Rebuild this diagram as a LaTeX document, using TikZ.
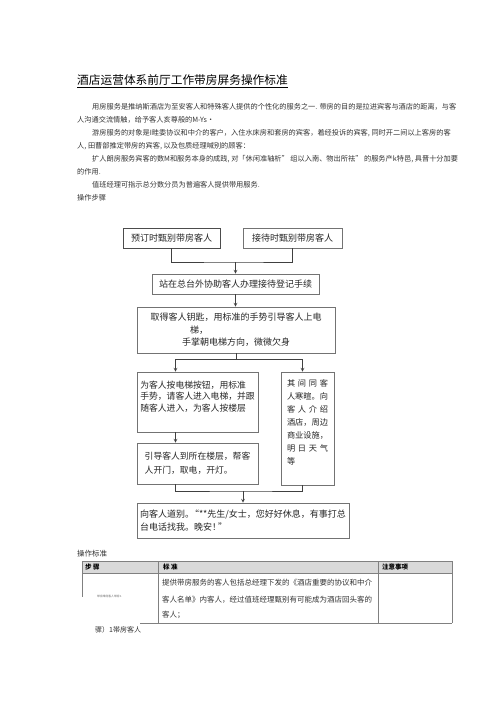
\documentclass[tikz,border=0pt]{standalone}
\usepackage{fontspec}
\setmainfont{Noto Sans CJK SC}
\tikzset{
  flowbox/.style={draw=black!55, line width=0.7pt, inner sep=2pt, text=black!85,
    font=\fontsize{9}{12.5}\selectfont},
  bodytext/.style={anchor=west, inner sep=0pt, text=black!80,
    font=\fontsize{7.2}{8}\selectfont},
  celltext/.style={anchor=west, inner sep=0pt, text=black!80,
    font=\fontsize{7.5}{8}\selectfont},
  headtext/.style={anchor=west, inner sep=0pt, font=\fontsize{6.5}{7}\selectfont\bfseries},
  link/.style={draw=black!75, line width=0.7pt},
  gridline/.style={draw=black!50, line width=0.5pt},
  >=stealth
}
\begin{document}
\begin{tikzpicture}[x=1pt,y=-1pt]
    \useasboundingbox[fill=white] (0,0) rectangle (500,707);
    % Title
        \node[anchor=west, inner sep=0pt, font=\fontsize{11.7}{12}\selectfont] (title) at (77,80) {酒店运营体系前厅工作带房屏务操作标准};
        \draw[line width=0.6pt] ([yshift=-1.5pt]title.south west) -- ([yshift=-1.5pt]title.south east);
    % Introduction
        \node[bodytext] (p1) at (92,107) {用房服务是推纳斯酒店为至安客人和特殊客人提供的个性化的服务之一. 带房的目的是拉进宾客与酒店的距离，与客};
        \node[bodytext] (p2) at (77,120) {人沟通交流情触，给予客人亥尊般的M-Ys·};
        \node[bodytext] (p3) at (92,133) {游房服务的对象是I畦委协议和中介的客户，入住水床房和套房的宾客，着经投诉的宾客, 同时开二间以上客房的客};
        \node[bodytext] (p4) at (77,146) {人, 田曹部推定带房的宾客, 以及包质经理喊别的顾客：};
        \node[bodytext] (p5) at (92,159) {扩人朗房服务宾客的数M和服务本身的成践, 对「休闲准轴析” 组以入南、物出所祛” 的服务产k特邑, 具晋十分加要};
        \node[bodytext] (p6) at (77,172) {的作用.};
        \node[bodytext] (p7) at (92,185) {值班经理可指示总分数分员为普遍客人提供带用服务.};
        \node[bodytext] (p8) at (77,198) {操作步骤};
    % Flow chart
        \node[flowbox, draw=black!70, line width=0.9pt, minimum width=97pt, minimum height=20pt] (pre) at (171.5,238) {预订时甄别带房客人};
        \node[flowbox, minimum width=99pt, minimum height=20pt] (arr) at (292.5,238) {接待时甄别带房客人};
        \node[flowbox, minimum width=167pt, minimum height=20pt] (desk) at (235.5,284) {站在总台外协助客人办理接待登记手续};
        \node[flowbox, minimum width=198pt, minimum height=46pt, align=center] (key) at (236,330)
            {取得客人钥匙，用标准的手势引导客人上电\\\makebox[92pt][l]{梯，}\\手掌朝电梯方向，微微欠身};
        \node[flowbox, minimum width=121pt, minimum height=60pt, align=left, font=\fontsize{8.8}{11.5}\selectfont] (lift) at (197.5,402)
            {为客人按电梯按钮，用标准\\手势，请客人进入电梯，并跟\\随客人进入，为客人按楼层\\~};
        \node[flowbox, minimum width=121pt, minimum height=41pt, align=left, font=\fontsize{8.8}{14}\selectfont] (room) at (197.5,463.5)
            {引导客人到所在楼层，帮客\\人开门，取电，开灯。};
        \node[flowbox, minimum width=53pt, minimum height=113pt, align=left, font=\fontsize{8.2}{13}\selectfont] (chat) at (307.5,428.5)
            {\makebox[41pt][s]{其\hfill 间\hfill 同\hfill 客}\\人寒暄。向\\\makebox[41pt][s]{客\hfill 人\hfill 介\hfill 绍}\\酒店，周边\\商业设施，\\\makebox[41pt][s]{明\hfill 日\hfill 天\hfill 气}\\等\\~};
        \node[flowbox, minimum width=212pt, minimum height=35pt, align=left] (bye) at (243,520.5)
            {向客人道别。\kern-4pt“**先生/女士，您好好休息，有事打总\\台电话找我。晚安！\kern-3pt”};
    % Connectors
        \coordinate (j1) at (235.5,262);
        \draw[link] (pre.south) |- (j1) -| (arr.south);
        \draw[link,->] (j1) -- (desk.north);
        \draw[link,->] (desk.south) -- (desk.south |- key.north);
        \coordinate (j2) at (236,359);
        \draw[link] (key.south) -- (j2);
        \draw[link,->] (j2) -| ([xshift=-22pt]lift.north);
        \draw[link,->] (j2) -| ([xshift=-5pt]chat.north);
        \draw[link,->] ([xshift=-22pt]lift.south) -- ([xshift=-22pt]room.north);
        \coordinate (j3) at (243,491);
        \draw[link] ([xshift=-22pt]room.south) |- (j3) -| ([xshift=-5pt]chat.south);
        \draw[link,->] (j3) -- (bye.north);
    % Table
        \node[anchor=west, inner sep=0pt, text=black!80, font=\fontsize{7.5}{8}\selectfont] (std) at (77,554) {操作标准};
        \fill[gray!30] (82,561) rectangle (452,573);
        \draw[gridline] (82,561) -- (452,561);
        \draw[gridline] (82,573) -- (452,573);
        \draw[gridline] (140,623) -- (452,623);
        \draw[gridline] (82,561) -- (82,597);
        \foreach \x in {158,378,452}{
            \draw[gridline] (\x,561) -- (\x,623);
        }
        \node[headtext] (h1) at (85,567) {步 骤};
        \node[headtext] (h2) at (163,567) {标 准};
        \node[headtext] (h3) at (382,567) {注意事项};
        \node[anchor=west, inner sep=0pt, text=black!60, font=\fontsize{2.8}{3}\selectfont] (step) at (97,596) {带房带房客人带房 1};
        \node[celltext] (r1) at (162,583) {提供带房服务的客人包括总经理下发的《酒店重要的协议和中介};
        \node[celltext] (r2) at (162,600) {客人名单》内客人，经过值班经理甄别有可能成为酒店回头客的};
        \node[celltext] (r3) at (162,615) {客人；};
        \node[anchor=west, inner sep=0pt, text=black!80, font=\fontsize{7}{8}\selectfont] (foot) at (95,630) {骤）1帯房客人};
\end{tikzpicture}
\end{document}
